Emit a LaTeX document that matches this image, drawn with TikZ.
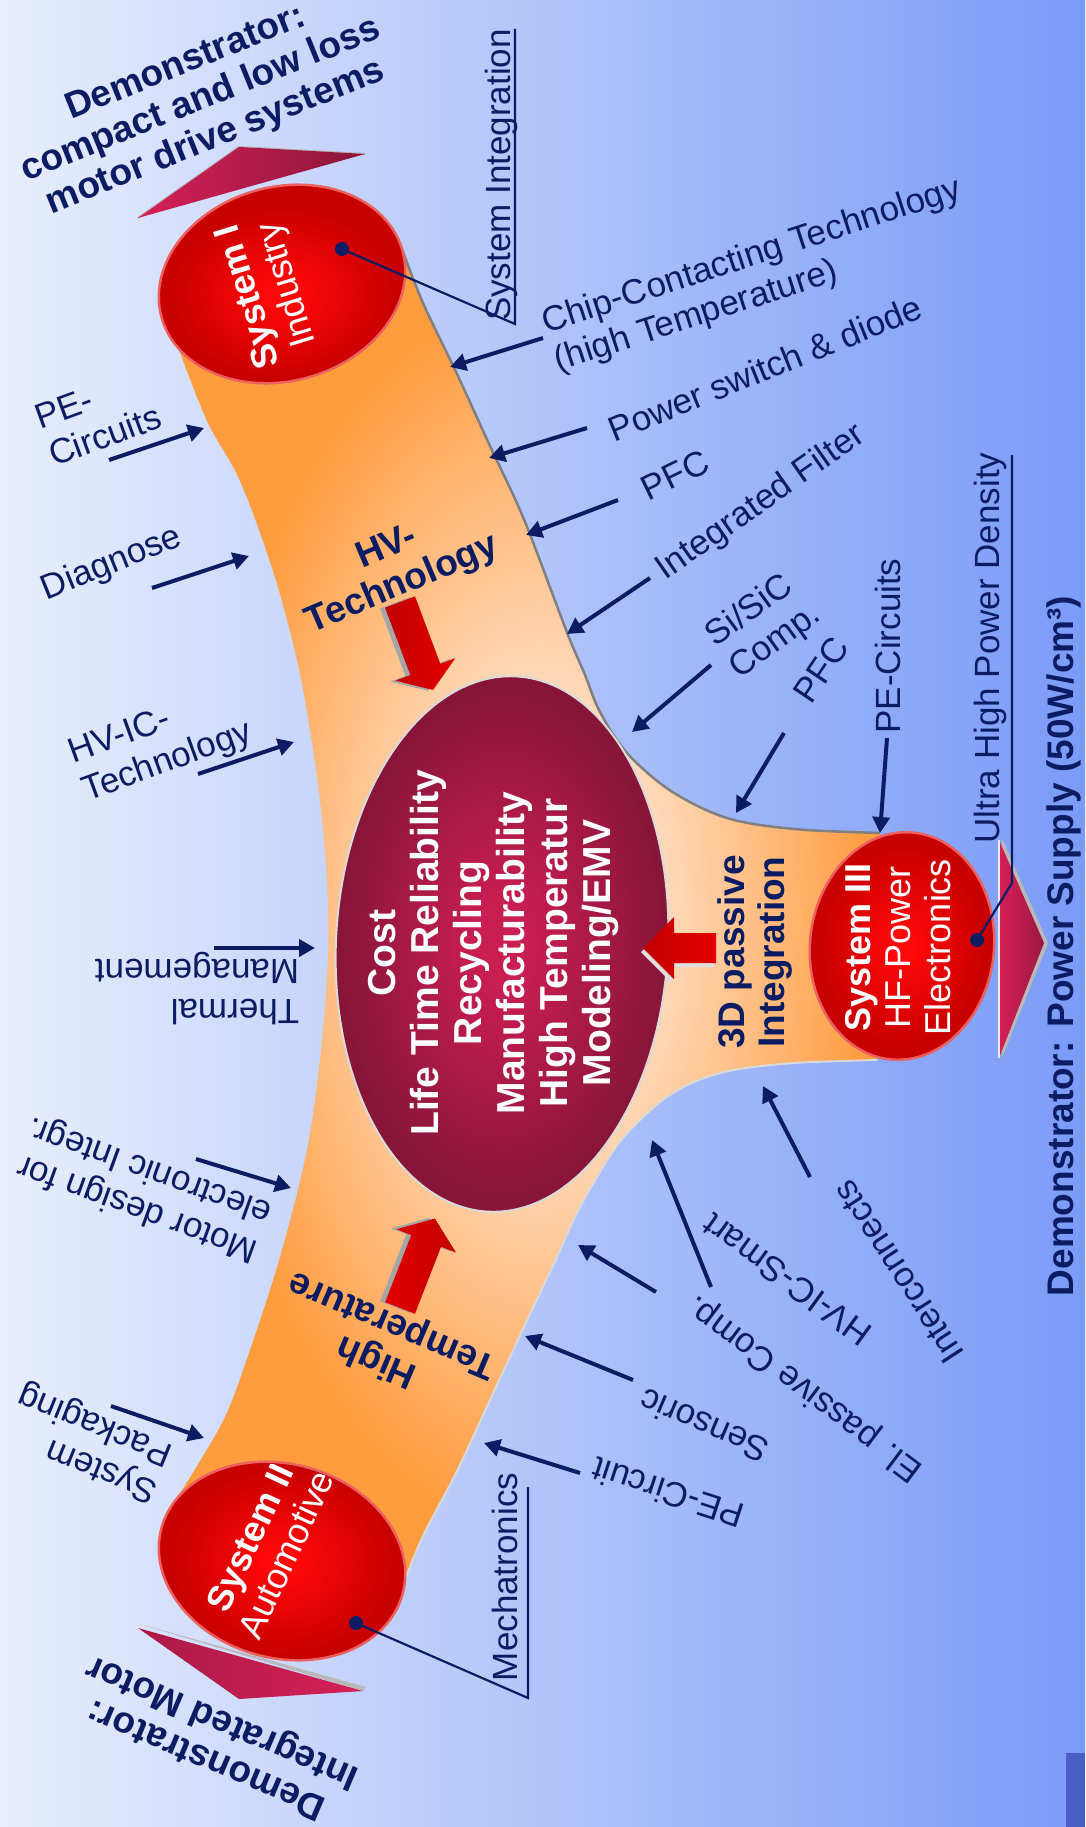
\documentclass[tikz,border=0pt]{standalone}
\usepackage{fontspec}
\setmainfont{Liberation Sans}
\usetikzlibrary{arrows.meta}

\definecolor{navytext}{RGB}{12,28,98}
\definecolor{bgleft}{RGB}{232,238,253}
\definecolor{bgright}{RGB}{122,155,247}
\definecolor{tubelight}{RGB}{255,224,200}
\definecolor{tubeorange}{RGB}{255,156,62}
\definecolor{sysred}{RGB}{255,8,8}
\definecolor{sysdark}{RGB}{200,0,0}
\definecolor{corecenter}{RGB}{200,30,82}
\definecolor{coreedge}{RGB}{134,21,56}
\definecolor{wedgepink}{RGB}{214,32,88}
\definecolor{wedgedark}{RGB}{140,22,58}
\definecolor{blockred}{RGB}{228,0,0}
\definecolor{barblue}{RGB}{72,96,198}

\pgfdeclareradialshading{tubeshade}{\pgfpoint{0bp}{0bp}}{color(0bp)=(tubelight); color(7bp)=(tubelight); color(23bp)=(tubeorange); color(50bp)=(tubeorange)}
\pgfdeclareradialshading{coreshade}{\pgfpoint{0bp}{0bp}}{color(0bp)=(corecenter); color(4bp)=(corecenter); color(24bp)=(coreedge); color(50bp)=(coreedge)}
\pgfdeclareradialshading{diskshade}{\pgfpoint{0bp}{0bp}}{color(0bp)=(sysred); color(3bp)=(sysred); color(21bp)=(sysdark); color(50bp)=(sysdark)}

\begin{document}
\begin{tikzpicture}[x=1pt,y=-1pt,
    lbl/.style={text=navytext, font=\fontsize{35}{40}\selectfont},
    boldlbl/.style={text=navytext, font=\bfseries\fontsize{37}{40}\selectfont, align=center},
    disktext/.style={text=white, font=\fontsize{36}{40}\selectfont, align=center},
    pointer/.style={draw=navytext, line width=4pt, -{Triangle[length=16pt,width=17pt]}},
    callout/.style={draw=navytext, line width=2.2pt},
    dot/.style={circle, fill=navytext, inner sep=0pt, minimum size=14pt},
    disk/.style={shading=diskshade, draw={rgb,255:red,236;green,96;blue,96}, line width=2.5pt},
    wedgeshadow/.style={fill=gray!55}]
   \useasboundingbox (0,0) rectangle (1085,1827);
   \shade[left color=bgleft, right color=bgright] (0,0) rectangle (1085,1827);
   \fill[barblue] (1066,1753) rectangle (1085,1827);

   \draw[gray!60, line width=2pt] (138,218) -- (239,147) -- (365,154);
   \shade[left color=wedgepink, right color=wedgedark] (138,218) -- (239,147) -- (365,154) -- cycle;
   \fill[wedgeshadow] (136,1623) -- (366,1687) -- (363,1691) -- cycle;
   \shade[left color=wedgedark!60!wedgepink, right color=wedgepink] (138,1628) -- (363,1691) -- (239,1699) -- cycle;
   \fill[wedgeshadow] (1002,838) -- (1048,943) -- (1002,1058) -- cycle;
   \shade[left color=wedgepink, right color=wedgedark!80!wedgepink] (999,840) -- (1044,943) -- (999,1058) -- cycle;
   \draw[white!85!gray, line width=2pt] (999,840) -- (999,1058);

   \shade[shading=tubeshade]
     plot[smooth, tension=0.55] coordinates {(178,347) (207,421) (240,481) (273,571) (297,660) (310,730) (320,800) (327,880) (328,957) (321,1050) (307,1150) (280,1257) (250,1350) (223,1421) (177,1498)}
     -- (282,1561) --
     plot[smooth, tension=0.55] coordinates {(403,1585) (423,1536) (457,1471) (490,1400) (523,1329) (557,1257) (576,1215) (597,1177) (623,1138) (660,1102) (694,1082) (734,1070) (794,1063) (877,1060)}
     -- (902,946) --
     plot[smooth, tension=0.55] coordinates {(880,833) (794,829) (727,818) (671,791) (627,753) (600,712) (585,675) (570,640) (557,606) (523,517) (490,446) (457,374) (423,303) (400,244)}
     -- (282,284) -- cycle;
   \draw[gray, line width=2.5pt] plot[smooth, tension=0.55] coordinates {(880,833) (794,829) (727,818) (671,791) (627,753) (600,712) (585,675) (570,640) (557,606) (523,517) (490,446) (457,374) (423,303) (400,244)};
   \draw[white!70!gray, line width=2pt] plot[smooth, tension=0.55] coordinates {(403,1585) (423,1536) (457,1471) (490,1400) (523,1329) (557,1257) (576,1215) (597,1177) (623,1138) (660,1102) (694,1082) (734,1070) (794,1063) (877,1060)};

   \begin{scope}[shift={(502,944)}, rotate=-3]
     \shadedraw[shading=coreshade, draw=white!70!gray, line width=2pt] (0,0) ellipse [x radius=166, y radius=268];
   \end{scope}
   \begin{scope}[shift={(282,284)}, rotate=15.5]
     \shadedraw[disk] (0,0) ellipse [x radius=125, y radius=97];
   \end{scope}
   \begin{scope}[shift={(282,1561)}, rotate=-15.5]
     \shadedraw[disk] (0,0) ellipse [x radius=125, y radius=97];
   \end{scope}
   \begin{scope}[shift={(902,946)}, rotate=-6]
     \shadedraw[disk] (0,0) ellipse [x radius=92, y radius=114];
   \end{scope}

   \begin{scope}[shift={(400,602)}, rotate=-69.4]
     \fill[gray!70, shift={(-1,5)}] (0,-16) -- (72,-16) -- (72,-32) -- (94,0) -- (72,32) -- (72,16) -- (0,16) -- cycle;
     \shade[left color=blockred!85!black, right color=blockred] (0,-16) -- (72,-16) -- (72,-32) -- (94,0) -- (72,32) -- (72,16) -- (0,16) -- cycle;
   \end{scope}
   \begin{scope}[shift={(400,1308)}, rotate=68.7]
     \fill[gray!70, shift={(-1,-5)}] (0,-16) -- (72,-16) -- (72,-32) -- (96,0) -- (72,32) -- (72,16) -- (0,16) -- cycle;
     \shade[left color=blockred, right color=blockred!85!black] (0,-16) -- (72,-16) -- (72,-32) -- (96,0) -- (72,32) -- (72,16) -- (0,16) -- cycle;
   \end{scope}
   \begin{scope}[shift={(716,948)}, rotate=180]
     \fill[white!75!gray, shift={(2,-4)}] (0,-15) -- (42,-15) -- (42,-31) -- (73,0) -- (42,31) -- (42,15) -- (0,15) -- cycle;
     \shade[left color=blockred!85!black, right color=blockred] (0,-15) -- (42,-15) -- (42,-31) -- (73,0) -- (42,31) -- (42,15) -- (0,15) -- cycle;
   \end{scope}

   \node[text=white, font=\bfseries\fontsize{39}{43}\selectfont, align=center, rotate=90] (core) at (494,953)
     {Cost\\Life Time Reliability\\Recycling\\Manufacturability\\High Temperatur\\Modeling/EMV};
   \node[disktext, rotate=107] (S1) at (269,290) {\textbf{System I}\\Industry};
   \begin{scope}
     \clip[shift={(282,1561)}, rotate=-15.5] (0,0) ellipse [x radius=123, y radius=95];
     \node[disktext, rotate=65] (S2) at (268,1546) {\textbf{System II}\\Automotive};
   \end{scope}
   \node[disktext, rotate=90] (S3) at (898,947) {\textbf{System III}\\HF-Power\\Electronics};

   \node[boldlbl, rotate=22] (title) at (201,101) {Demonstrator:\\compact and low loss\\motor drive systems};
   \node[boldlbl, rotate=23] (hvtech) at (395,567) {HV-\\Technology};
   \node[boldlbl, rotate=157] (hightemp) at (385,1342) {High\\Temperature};
   \node[boldlbl, rotate=90] (passive) at (755,952) {3D passive\\Integration};
   \node[boldlbl, rotate=90] (demops) at (1064,946) {Demonstrator: Power Supply (50W/cm³)};
   \node[boldlbl, rotate=157] (demoim) at (215,1739) {Demonstrator:\\Integrated Motor};

   \node[lbl, rotate=90] (sysint) at (501,175) {System Integration};
   \node[lbl, rotate=18, align=left] (chip) at (758,276) {Chip-Contacting Technology\\(high Temperature)};
   \node[lbl, rotate=22] (pswitch) at (765,368) {Power switch \& diode};
   \node[lbl, rotate=26] (pfcA) at (675,475) {PFC};
   \node[lbl, rotate=35] (filter) at (761,503) {Integrated Filter};
   \node[lbl, rotate=36, align=left] (sisic) at (764,626) {Si/SiC\\Comp.};
   \node[lbl, rotate=56] (pfcB) at (821,670) {PFC};
   \node[lbl, rotate=90] (pecR) at (888,646) {PE-Circuits};
   \node[lbl, rotate=90] (ultra) at (990,648) {Ultra High Power Density};
   \node[lbl, rotate=20, align=left] (pecL) at (98,417) {PE-\\Circuits};
   \node[lbl, rotate=22] (diag) at (112,564) {Diagnose};
   \node[lbl, rotate=20, align=left] (hvic) at (161,744) {HV-IC-\\Technology};
   \node[lbl, rotate=180, align=left] (thermal) at (197,989) {Thermal\\Management};
   \node[lbl, rotate=160, align=left] (motor) at (143,1188) {Motor design for\\electronic Integr.};
   \node[lbl, rotate=158, align=left] (pack) at (88,1442) {System\\Packaging};
   \node[lbl, rotate=162] (pecB) at (668,1493) {PE-Circuit};
   \node[lbl, rotate=157] (sensoric) at (704,1426) {Sensoric};
   \node[lbl, rotate=143] (elpass) at (805,1388) {El. passive Comp.};
   \node[lbl, rotate=144] (hvsmart) at (787,1280) {HV-IC-Smart};
   \node[lbl, rotate=123] (interc) at (898,1272) {Interconnects};
   \node[lbl, rotate=90] (mecha) at (505,1577) {Mechatronics};

   \node[dot] (d1) at (342,249) {};
   \node[dot] (d2) at (356,1623) {};
   \node[dot] (d3) at (977,940) {};
   \coordinate (u1a) at (515,324);
   \coordinate (u1b) at (515,29);
   \coordinate (u2a) at (528,1698);
   \coordinate (u2b) at (528,1487);
   \coordinate (u3a) at (1012,883);
   \coordinate (u3b) at (1012,455);
   \draw[callout] (d1.center) to (u1a) to (u1b);
   \draw[callout] (d2.center) to (u2a) to (u2b);
   \draw[callout] (d3.center) to (u3a) to (u3b);

   \coordinate (chipT) at (543,338);      \coordinate (chipH) at (450,367);
   \coordinate (pswitchT) at (587,428);   \coordinate (pswitchH) at (489,458);
   \coordinate (pfcAT) at (618,500);      \coordinate (pfcAH) at (526,535);
   \coordinate (filterT) at (650,578);    \coordinate (filterH) at (567,634);
   \coordinate (sisicT) at (711,665);     \coordinate (sisicH) at (632,732);
   \coordinate (pfcBT) at (784,733);      \coordinate (pfcBH) at (736,813);
   \coordinate (pecRT) at (887,738);      \coordinate (pecRH) at (880,833);
   \coordinate (pecLT) at (109,460);      \coordinate (pecLH) at (204,428);
   \coordinate (diagT) at (152,588);      \coordinate (diagH) at (249,556);
   \coordinate (hvicT) at (198,774);      \coordinate (hvicH) at (294,742);
   \coordinate (thermalT) at (214,948);   \coordinate (thermalH) at (315,948);
   \coordinate (motorT) at (196,1159);    \coordinate (motorH) at (291,1188);
   \coordinate (packT) at (111,1406);     \coordinate (packH) at (204,1438);
   \coordinate (intercT) at (810,1177);   \coordinate (intercH) at (763,1086);
   \coordinate (hvsmartT) at (711,1287);  \coordinate (hvsmartH) at (652,1140);
   \coordinate (elpassT) at (656,1292);   \coordinate (elpassH) at (578,1245);
   \coordinate (sensoricT) at (633,1380); \coordinate (sensoricH) at (525,1336);
   \coordinate (pecBT) at (580,1473);     \coordinate (pecBH) at (484,1443);

   \draw[pointer] (chipT) to (chipH);
   \draw[pointer] (pswitchT) to (pswitchH);
   \draw[pointer] (pfcAT) to (pfcAH);
   \draw[pointer] (filterT) to (filterH);
   \draw[pointer] (sisicT) to (sisicH);
   \draw[pointer] (pfcBT) to (pfcBH);
   \draw[pointer] (pecRT) to (pecRH);
   \draw[pointer] (pecLT) to (pecLH);
   \draw[pointer] (diagT) to (diagH);
   \draw[pointer] (hvicT) to (hvicH);
   \draw[pointer] (thermalT) to (thermalH);
   \draw[pointer] (motorT) to (motorH);
   \draw[pointer] (packT) to (packH);
   \draw[pointer] (intercT) to (intercH);
   \draw[pointer] (hvsmartT) to (hvsmartH);
   \draw[pointer] (elpassT) to (elpassH);
   \draw[pointer] (sensoricT) to (sensoricH);
   \draw[pointer] (pecBT) to (pecBH);
\end{tikzpicture}
\end{document}
